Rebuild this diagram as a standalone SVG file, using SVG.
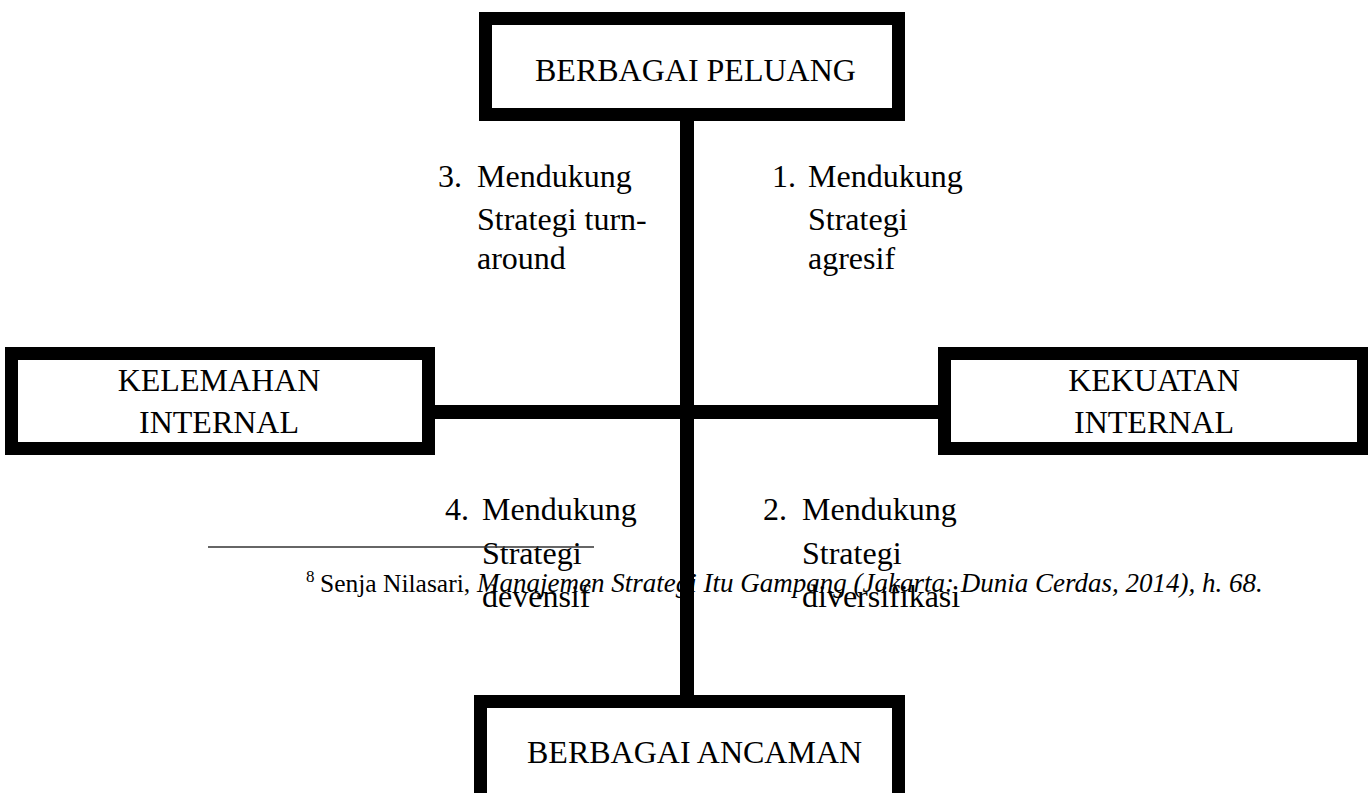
<svg xmlns="http://www.w3.org/2000/svg" width="1368" height="793" viewBox="0 0 1368 793">
<style>
.box{fill:#fff;stroke:#000;stroke-width:13}
.conn{stroke:#000;stroke-width:14;fill:none}
text{font-family:"Liberation Serif","Times New Roman",serif;fill:#000}
.t{font-size:32px}
.c{text-anchor:middle}
.fn{font-size:25.5px}
</style>
<rect width="1368" height="793" fill="#fff"/>
<g id="connectors">
<line class="conn" x1="687" y1="115" x2="687" y2="700"/>
<line class="conn" x1="430" y1="412" x2="943" y2="412"/>
</g>
<g id="peluang">
<rect class="box" x="485.5" y="18.5" width="413" height="96"/>
<text class="t" x="535" y="81">BERBAGAI PELUANG</text>
</g>
<g id="kelemahan">
<rect class="box" x="11.5" y="353.5" width="417" height="95"/>
<text class="t c" x="219" y="391">KELEMAHAN</text>
<text class="t c" x="219" y="433">INTERNAL</text>
</g>
<g id="kekuatan">
<rect class="box" x="944.5" y="353.5" width="419" height="95"/>
<text class="t c" x="1154" y="391">KEKUATAN</text>
<text class="t c" x="1154" y="433">INTERNAL</text>
</g>
<g id="ancaman">
<rect class="box" x="480.5" y="701.5" width="418" height="120"/>
<text class="t" x="527" y="763">BERBAGAI ANCAMAN</text>
</g>
<g id="label3">
<text class="t" x="438" y="187">3.</text>
<text class="t" x="477" y="187">Mendukung</text>
<text class="t" x="477" y="230">Strategi turn-</text>
<text class="t" x="477" y="269">around</text>
</g>
<g id="label1">
<text class="t" x="772" y="187">1.</text>
<text class="t" x="808" y="187">Mendukung</text>
<text class="t" x="808" y="230">Strategi</text>
<text class="t" x="808" y="269">agresif</text>
</g>
<g id="label4">
<text class="t" x="445" y="520">4.</text>
<text class="t" x="482" y="520">Mendukung</text>
<text class="t" x="482" y="564">Strategi</text>
<text class="t" x="482" y="607">devensif</text>
</g>
<g id="label2">
<text class="t" x="763" y="520">2.</text>
<text class="t" x="802" y="520">Mendukung</text>
<text class="t" x="802" y="564">Strategi</text>
<text class="t" x="802" y="607">diversifikasi</text>
</g>
<g id="footnote">
<line x1="208" y1="547" x2="594" y2="547" stroke="#333" stroke-width="1.3"/>
<text x="306" y="582" font-size="17">8</text>
<text class="fn" x="320" y="592">Senja Nilasari, <tspan x="477" font-style="italic" font-size="27">Manajemen Strategi Itu Gampang (Jakarta: Dunia Cerdas, 2014), h. 68.</tspan></text>
</g>
</svg>
